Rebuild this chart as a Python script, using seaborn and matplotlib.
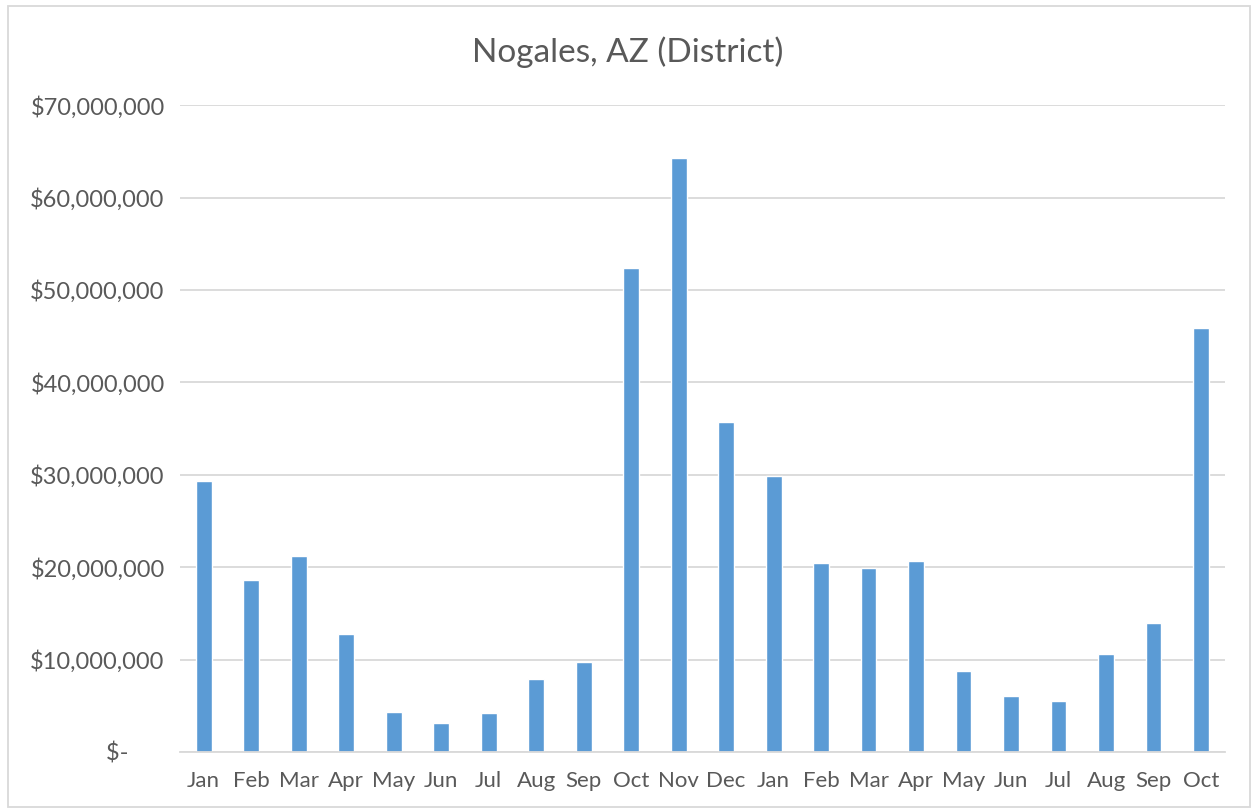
import pandas as pd
import numpy as np
import matplotlib
matplotlib.use('Agg')
import matplotlib.pyplot as plt
import seaborn as sns
from matplotlib.ticker import FuncFormatter
from matplotlib.patches import Rectangle

# chart data
months = ['Jan', 'Feb', 'Mar', 'Apr', 'May', 'Jun', 'Jul', 'Aug', 'Sep', 'Oct', 'Nov', 'Dec',
          'Jan', 'Feb', 'Mar', 'Apr', 'May', 'Jun', 'Jul', 'Aug', 'Sep', 'Oct']
values = [29.3, 18.6, 21.2, 12.8, 4.3, 3.1, 4.2, 7.9, 9.7, 52.4, 64.3, 35.7,
          29.9, 20.4, 19.9, 20.7, 8.8, 6.1, 5.5, 10.6, 14.0, 45.9]
values = [v * 1e6 for v in values]
y_ticks = [0, 10e6, 20e6, 30e6, 40e6, 50e6, 60e6, 70e6]

df = pd.DataFrame({'pos': range(len(months)), 'month': months, 'value': values})

bar_color = '#5B9BD5'
text_color = '#595959'
grid_color = '#D9D9D9'

sns.set_style('white')
plt.rcParams['font.family'] = ['Lato', 'DejaVu Sans']

fig = plt.figure(figsize=(12.55, 8.09), dpi=100)
ax = fig.add_axes([0.1434, 0.0705, 0.8326, 0.7995])

sns.barplot(data=df, x='pos', y='value', color=bar_color, width=0.33, saturation=1, ax=ax)

ax.set_ylim(0, 70e6)
ax.set_yticks(y_ticks)
# accounting style: zero shows as "$-" with a trailing gap
ax.yaxis.set_major_formatter(FuncFormatter(lambda v, p: '$-      ' if v == 0 else f'${v:,.0f}'))
ax.set_xticks(df['pos'])
ax.set_xticklabels(months)
ax.set_xlim(-0.5, len(months) - 0.5)

ax.grid(axis='y', color=grid_color, linewidth=1.3)
ax.set_axisbelow(True)
for s in ['top', 'right', 'left']:
    ax.spines[s].set_visible(False)
ax.spines['bottom'].set_color(grid_color)
ax.spines['bottom'].set_linewidth(1.3)

ax.tick_params(axis='both', length=0, colors=text_color)
ax.tick_params(axis='y', pad=11, labelsize=17)
ax.tick_params(axis='x', pad=14, labelsize=16)
ax.set_xlabel('')
ax.set_ylabel('')

fig.text(0.5, 0.936, 'Nogales, AZ (District)', ha='center', va='center', fontsize=24, color=text_color)

# chart border
fig.patches.append(Rectangle((0.006, 0.003), 0.99, 0.99, transform=fig.transFigure,
                             fill=False, edgecolor=grid_color, linewidth=1.3))

fig.savefig('out.png', dpi=100)
